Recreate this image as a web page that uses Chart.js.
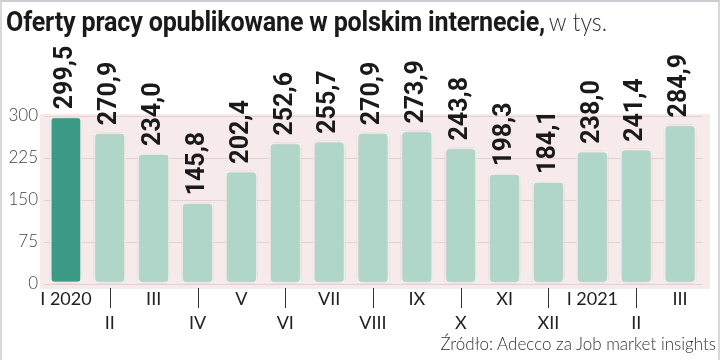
<!DOCTYPE html>
<html>
<head>
<meta charset="utf-8">
<script src="https://cdn.jsdelivr.net/npm/chart.js@4/dist/chart.umd.min.js"></script>
<style>
  html, body { margin: 0; padding: 0; background: #fff; }
  #wrap { position: relative; width: 720px; height: 360px; overflow: hidden; box-sizing: border-box; border-top: 2px solid #c9ccd3; border-left: 2px solid #d6d8de; border-right: 2px solid #d6d8de; }
  #title { position: absolute; left: 4px; top: 4px; white-space: nowrap; color: #1a1a1a; transform: scaleX(0.93); transform-origin: left top; }
  #title b { font-family: "Liberation Sans Narrow", "Roboto", sans-serif; font-weight: 700; font-size: 27px; letter-spacing: -0.2px; }
  #title span { font-family: "Lato", sans-serif; font-weight: 300; font-size: 25px; color: #333; }
  #source { position: absolute; right: 2px; top: 331px; font-family: "Lato", sans-serif; font-weight: 300; font-size: 17px; color: #333; white-space: nowrap; }
  canvas { position: absolute; left: 0; top: 0; }
</style>
</head>
<body>
<div id="wrap">
  <canvas id="c" width="716" height="358"></canvas>
  <div id="title"><b>Oferty pracy opublikowane w polskim internecie,</b> <span>w tys.</span></div>
  <div id="source">Źródło: Adecco za Job market insights</div>
</div>
<script>
const categories = ["I 2020","II","III","IV","V","VI","VII","VIII","IX","X","XI","XII","I 2021","II","III"];
const offers = [299.5, 270.9, 234.0, 145.8, 202.4, 252.6, 255.7, 270.9, 273.9, 243.8, 198.3, 184.1, 238.0, 241.4, 284.9];
const yTicks = [0, 75, 150, 225, 300];

const barColors = offers.map((v, i) => i === 0 ? '#3b9a86' : '#afd6c9');

const bandPlugin = {
  id: 'band',
  beforeDraw(chart) {
    const { ctx, chartArea, scales } = chart;
    const yTop = scales.y.getPixelForValue(300);
    ctx.save();
    ctx.fillStyle = '#f7eaeb';
    ctx.fillRect(chartArea.left - 4, yTop - 2, chartArea.right - chartArea.left + 12, chartArea.bottom - yTop + 7);
    ctx.restore();
  }
};

const shadowPlugin = {
  id: 'shadow',
  beforeDatasetDraw(chart) {
    const ctx = chart.ctx;
    ctx.save();
    ctx.shadowColor = 'rgba(90,70,75,0.35)';
    ctx.shadowBlur = 5;
    ctx.shadowOffsetX = 0;
    ctx.shadowOffsetY = 0;
  },
  afterDatasetDraw(chart) {
    chart.ctx.restore();
  }
};

const labelPlugin = {
  id: 'vlabels',
  afterDatasetsDraw(chart) {
    const { ctx, chartArea } = chart;
    const meta = chart.getDatasetMeta(0);
    ctx.save();
    ctx.fillStyle = '#1a1a1a';
    ctx.font = 'bold 25px "Liberation Sans Narrow", "Roboto", sans-serif';
    ctx.textAlign = 'left';
    ctx.textBaseline = 'middle';
    meta.data.forEach((bar, i) => {
      const txt = offers[i].toFixed(1).replace('.', ',');
      ctx.save();
      ctx.translate(bar.x, bar.y - 7);
      ctx.rotate(-Math.PI / 2);
      ctx.fillText(txt, 0, 0);
      ctx.restore();
    });
    // category labels in two rows + tick marks for lower row
    const xs = chart.scales.x;
    ctx.fillStyle = '#222';
    ctx.font = '400 18px "Lato", sans-serif';
    ctx.textAlign = 'center';
    ctx.textBaseline = 'middle';
    ctx.strokeStyle = '#333';
    ctx.lineWidth = 1;
    categories.forEach((c, i) => {
      const xc = xs.getPixelForTick(i);
      if (i % 2 === 1) {
        const x = Math.round(xc) + 0.5;
        ctx.beginPath();
        ctx.moveTo(x, chartArea.bottom + 4);
        ctx.lineTo(x, chartArea.bottom + 24);
        ctx.stroke();
        ctx.fillText(c, xc, chartArea.bottom + 39);
      } else {
        ctx.fillText(c, xc, chartArea.bottom + 15);
      }
    });
    ctx.restore();
  }
};

new Chart(document.getElementById('c'), {
  type: 'bar',
  data: {
    labels: categories,
    datasets: [{
      data: offers,
      backgroundColor: barColors,
      borderColor: '#ffffff',
      borderWidth: 2,
      borderRadius: 4,
      borderSkipped: false,
      barPercentage: 0.74,
      categoryPercentage: 1.0
    }]
  },
  options: {
    responsive: false,
    animation: false,
    layout: { padding: { top: 114, left: 4, right: 16, bottom: 68 } },
    plugins: { legend: { display: false }, tooltip: { enabled: false }, title: { display: false } },
    scales: {
      x: {
        grid: { display: false },
        border: { display: false },
        ticks: { display: false }
      },
      y: {
        min: 0, max: 300,
        afterBuildTicks: (axis) => { axis.ticks = yTicks.map(v => ({ value: v })); },
        afterFit: (axis) => { axis.width = 38; },
        grid: { color: 'rgba(215,190,195,0.6)', drawTicks: false, lineWidth: 1 },
        border: { display: false },
        ticks: {
          color: '#444',
          font: { family: 'Lato', size: 17, weight: 300 },
          padding: 6
        }
      }
    }
  },
  plugins: [bandPlugin, shadowPlugin, labelPlugin]
});
</script>
</body>
</html>
